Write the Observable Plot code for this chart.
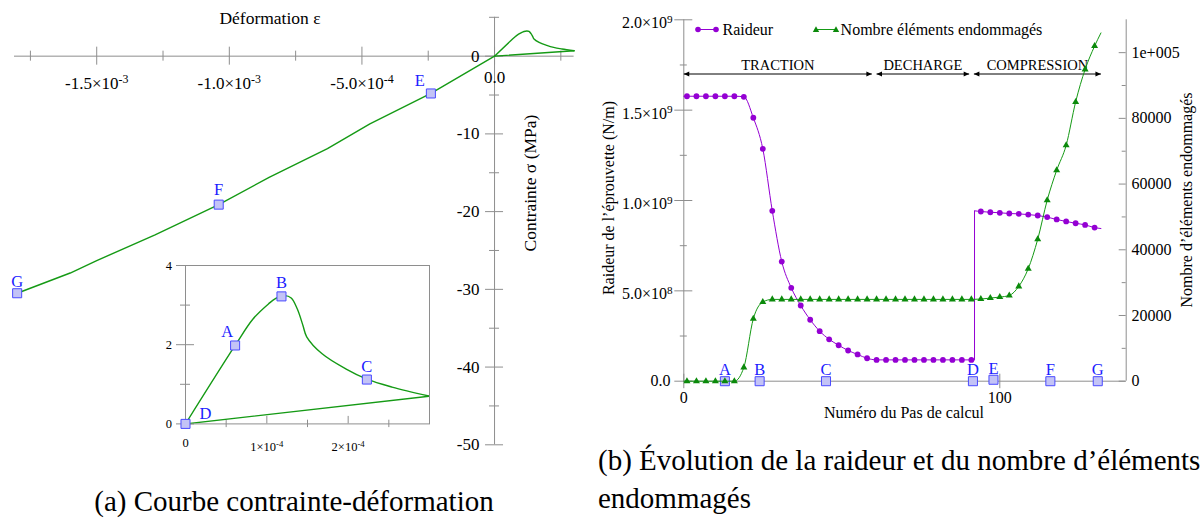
<!DOCTYPE html>
<html lang="fr"><head><meta charset="utf-8">
<script src="https://cdn.jsdelivr.net/npm/d3@7"></script>
<script src="https://cdn.jsdelivr.net/npm/@observablehq/plot@0.6"></script>
<style>
html,body{margin:0;padding:0;background:#fff;}
#root{position:relative;width:1204px;height:520px;overflow:hidden;background:#fff;
  font-family:"Liberation Serif","Times New Roman",serif;color:#000;}
.t{position:absolute;white-space:nowrap;line-height:1;}
</style></head><body><div id="root"></div>
<script>
// ================= Panel (a): stress-strain curve =================
const loadStrain = [0, 6.1e-5, 8.3e-5, 1.02e-4, 1.11e-4, 1.22e-4, 1.30e-4, 1.375e-4, 1.445e-4, 1.49e-4, 1.68e-4, 1.97e-4, 2.23e-4, 2.54e-4, 3.0e-4];
const loadStress = [0, 1.98, 2.65, 3.03, 3.17, 3.24, 3.18, 2.90, 2.48, 2.20, 1.77, 1.39, 1.13, 0.93, 0.70];
const unloadStrain = [3.0e-4, 0];
const unloadStress = [0.70, 0];
const compStrain = [0, -2.4e-4, -4.7e-4, -6.3e-4, -8.5e-4, -1.04e-3, -1.28e-3, -1.5e-3, -1.6e-3, -1.8e-3];
const compStress = [0, -4.8, -8.7, -11.9, -15.6, -19.1, -23.0, -26.3, -27.9, -30.5];
const pointNames = ["A", "B", "C", "D", "E", "F", "G"];
const pointStrain = [6.1e-5, 1.18e-4, 2.23e-4, 0, -2.4e-4, -1.04e-3, -1.8e-3];
const pointStress = [1.98, 3.22, 1.12, 0, -4.8, -19.1, -30.5];
const insetPoints = ["A", "B", "C", "D"];
const mainPoints = ["E", "F", "G"];

const mainXTicks = [-1.5e-3, -1.0e-3, -5.0e-4, 0];
const mainXTickLabels = ["-1.5×10^-3", "-1.0×10^-3", "-5.0×10^-4", "0.0"];
const mainXMinor = [-1.75e-3, -1.25e-3, -7.5e-4, -2.5e-4, 2.5e-4];
const mainYTicks = [0, -10, -20, -30, -40, -50];
const mainYTickLabels = ["0", "-10", "-20", "-30", "-40", "-50"];
const mainYMinor = [5, -5, -15, -25, -35, -45];

const insetXTicks = [0, 1e-4, 2e-4];
const insetXTickLabels = ["0", "1×10^-4", "2×10^-4"];
const insetXMinor = [5e-5, 1.5e-4, 2.5e-4];
const insetYTicks = [0, 2, 4];
const insetYTickLabels = ["0", "2", "4"];
const insetYMinor = [1, 3];

// ================= Panel (b): stiffness & damaged elements =================
const steps = [1, 4, 7, 10, 13, 16, 19, 22, 25, 28, 31, 34, 37, 40, 43, 46, 49, 52, 55, 58, 61, 64, 67, 70, 73, 76, 79, 82, 85, 88, 91, 94, 97, 100, 103, 106, 109, 112, 115, 118, 121, 124, 127, 130];
const raideur = [1.577e9, 1.577e9, 1.577e9, 1.577e9, 1.577e9, 1.577e9, 1.574e9, 1.458e9, 1.286e9, 0.943e9,
  0.662e9, 0.517e9, 0.419e9, 0.340e9, 0.277e9, 0.232e9, 0.199e9, 0.170e9, 0.148e9, 0.127e9,
  0.118e9, 0.118e9, 0.118e9, 0.118e9, 0.118e9, 0.118e9, 0.118e9, 0.118e9, 0.118e9, 0.118e9, 0.118e9,
  0.939e9, 0.935e9, 0.932e9, 0.928e9, 0.926e9, 0.922e9, 0.917e9, 0.908e9, 0.895e9, 0.884e9, 0.874e9, 0.865e9, 0.850e9];
const endommages = [0, 0, 0, 0, 0, 0, 4200, 19000, 24100, 24900,
  24900, 24900, 24900, 24900, 24900, 24900, 24900, 24900, 24900, 24900,
  24900, 24900, 24900, 24900, 24900, 24900, 24900, 24900, 24900, 24900, 24900,
  25000, 25300, 25600, 26100, 28850, 34250, 43200, 55100, 64200, 71800, 85000, 94900, 102000];
const raideurStart = 1.577e9;
const endommagesStart = 0;
const jumpStep = 92;
const raideurBeforeJump = 0.118e9;
const raideurAfterJump = 0.943e9;
const lastStep = 132;
const raideurLast = 0.845e9;
const endommagesLast = 106000;

const stepNames = ["A", "B", "C", "D", "E", "F", "G"];
const stepPositions = [13, 24, 45, 91.5, 98, 116, 131];
const stepMarkerValues = [0, 0, 0, 0, 8e6, 0, 0];

const phaseNames = ["TRACTION", "DECHARGE", "COMPRESSION"];
const phaseStart = [0, 61, 91.8];
const phaseEnd = [59.5, 90.3, 132];
const phaseLevel = 1.7e9;

const leftTicks = [0, 0.5e9, 1.0e9, 1.5e9, 2.0e9];
const leftTickLabels = ["0.0", "5.0×10^8", "1.0×10^9", "1.5×10^9", "2.0×10^9"];
const leftMinor = [0.25e9, 0.75e9, 1.25e9, 1.75e9];
const rightTicks = [0, 20000, 40000, 60000, 80000, 100000];
const rightTickLabels = ["0", "20000", "40000", "60000", "80000", "1e+005"];
const rightMinor = [10000, 30000, 50000, 70000, 90000];
const bXTicks = [0, 100];
const bXTickLabels = ["0", "100"];

// ================= rendering =================
const root = document.getElementById("root");
const W = 1204, H = 520;
const FONT = '"Liberation Serif","Times New Roman",serif';
const GRAY = "#8e8e8e", GREEN = "#159a15", GREEN_D = "#0b8a0b", PURPLE = "#9400d3", BLUE = "#1c1cff";
const SQ_FILL = "#c3c3f6", SQ_STROKE = "#4a4aff";

function supify(svg) {
  svg.querySelectorAll("text").forEach(t => {
    const s = t.textContent, k = s.indexOf("^");
    if (k < 0) return;
    t.textContent = s.slice(0, k);
    const ts = document.createElementNS("http://www.w3.org/2000/svg", "tspan");
    ts.setAttribute("dy", "-0.5em");
    ts.setAttribute("font-size", "70%");
    ts.textContent = s.slice(k + 1);
    t.appendChild(ts);
  });
}
function place(svg) {
  supify(svg);
  svg.style.position = "absolute"; svg.style.left = "0px"; svg.style.top = "0px";
  root.appendChild(svg);
}
function frameOpts(x0, x1, y0, y1) {
  return {width: W, height: H, marginLeft: x0, marginRight: W - x1, marginTop: y0, marginBottom: H - y1,
    style: {background: "transparent", overflow: "visible", fontFamily: FONT}};
}
const tk = (vals, labs) => vals.map((v, i) => ({v, label: labs[i]}));
const isExp = d => d.label.includes("^");
const noExp = d => !isExp(d);
const pts = (xs, ys) => xs.map((e, i) => ({e, s: ys[i]}));

const load = pts(loadStrain, loadStress);
const unload = pts(unloadStrain, unloadStress);
const comp = pts(compStrain, compStress);
const named = pointNames.map((n, i) => ({n, e: pointStrain[i], s: pointStress[i]}));
const letterOffset = {A: [-8, -14], B: [0, -14], C: [0, -13], D: [20, -10], E: [-11, -13], F: [0, -14.5], G: [0, -12]};

function letterMarks(names) {
  const sel = named.filter(d => names.includes(d.n));
  return [
    Plot.dot(sel, {x: "e", y: "s", symbol: "square", r: 5.1, fill: SQ_FILL, stroke: SQ_STROKE, strokeWidth: 1}),
    ...names.map(n => Plot.text(sel.filter(d => d.n === n), {x: "e", y: "s", text: "n", fill: BLUE, fontSize: 16.5,
      dx: letterOffset[n][0], dy: letterOffset[n][1]}))
  ];
}

// ---- (a) main plot ----
const mxt = tk(mainXTicks, mainXTickLabels), myt = tk(mainYTicks, mainYTickLabels);
place(Plot.plot({
  ...frameOpts(14, 573.6, 16.8, 444.3),
  x: {domain: [-1.81e-3, 3.0e-4], axis: null},
  y: {domain: [-50, 5], axis: null},
  marks: [
    Plot.ruleY([0], {stroke: GRAY}),
    Plot.ruleX([0], {stroke: GRAY}),
    Plot.ruleX(mainXTicks, {x: d => d, y1: 0, y2: 0, insetTop: -9, insetBottom: -9, stroke: GRAY}),
    Plot.ruleX(mainXMinor, {x: d => d, y1: 0, y2: 0, insetTop: -5, insetBottom: -5, stroke: GRAY}),
    Plot.ruleY(mainYTicks, {y: d => d, x1: 0, x2: 0, insetLeft: -9, insetRight: -9, stroke: GRAY}),
    Plot.ruleY(mainYMinor, {y: d => d, x1: 0, x2: 0, insetLeft: -5, insetRight: -5, stroke: GRAY}),
    Plot.text(mxt.filter(isExp), {x: "v", y: 0, text: "label", dy: 27.6, fontSize: 17}),
    Plot.text(mxt.filter(noExp), {x: "v", y: 0, text: "label", dy: 21, fontSize: 17}),
    Plot.text(myt, {x: 0, y: "v", text: "label", textAnchor: "end", dx: -15, fontSize: 17}),
    Plot.line(load, {x: "e", y: "s", curve: "catmull-rom", stroke: GREEN, strokeWidth: 1.4}),
    Plot.line(unload, {x: "e", y: "s", stroke: GREEN, strokeWidth: 1.4}),
    Plot.line(comp, {x: "e", y: "s", stroke: GREEN, strokeWidth: 1.4}),
    ...letterMarks(mainPoints)
  ]
}));

// ---- (a) inset ----
const ixt = tk(insetXTicks, insetXTickLabels), iyt = tk(insetYTicks, insetYTickLabels);
place(Plot.plot({
  ...frameOpts(185, 429, 265, 423.4),
  x: {domain: [0, 3.0e-4], axis: null},
  y: {domain: [0, 4], axis: null},
  marks: [
    Plot.frame({stroke: GRAY}),
    Plot.ruleY(insetYTicks, {y: d => d, x1: 0, x2: 0, insetLeft: -9, insetRight: -9, stroke: GRAY}),
    Plot.ruleY(insetYMinor, {y: d => d, x1: 0, x2: 0, insetLeft: -5, insetRight: -5, stroke: GRAY}),
    Plot.ruleX(insetXTicks.filter(v => v > 0), {x: d => d, y1: 0, y2: 0, insetTop: -7.5, insetBottom: 0, stroke: GRAY}),
    Plot.ruleX(insetXMinor, {x: d => d, y1: 0, y2: 0, insetTop: -3.7, insetBottom: -3.7, stroke: GRAY}),
    Plot.text(iyt, {x: 0, y: "v", text: "label", textAnchor: "end", dx: -13.5, fontSize: 12.5}),
    Plot.text(ixt.filter(isExp), {x: "v", y: 0, text: "label", dy: 23.4, fontSize: 12.5}),
    Plot.text(ixt.filter(noExp), {x: "v", y: 0, text: "label", dy: 19, fontSize: 12.5}),
    Plot.line(load, {x: "e", y: "s", curve: "catmull-rom", stroke: GREEN, strokeWidth: 1.4, clip: true}),
    Plot.line(unload, {x: "e", y: "s", stroke: GREEN, strokeWidth: 1.4, clip: true}),
    ...letterMarks(insetPoints)
  ]
}));

// ---- (b) left scale: stiffness ----
const B = [683.3, 1125.7, 19.3, 380.7];
const raid = steps.map((s, i) => ({s, v: raideur[i]}));
const endo = steps.map((s, i) => ({s, v: endommages[i]}));
const raidLine = [
  {seg: 1, s: 0, v: raideurStart},
  ...raid.filter(d => d.s < jumpStep).map(d => ({seg: 1, ...d})),
  {seg: 1, s: jumpStep, v: raideurBeforeJump},
  {seg: 2, s: jumpStep, v: raideurAfterJump},
  ...raid.filter(d => d.s > jumpStep).map(d => ({seg: 2, ...d})),
  {seg: 2, s: lastStep, v: raideurLast}
];
const endoLine = [{s: 0, v: endommagesStart}, ...endo, {s: lastStep, v: endommagesLast}];
const lt = tk(leftTicks, leftTickLabels), bxt = tk(bXTicks, bXTickLabels), rt = tk(rightTicks, rightTickLabels);
const phases = phaseNames.map((n, i) => ({n, a: phaseStart[i], b: phaseEnd[i], m: (phaseStart[i] + phaseEnd[i]) / 2}));
const headRight = {draw(ctx, size) { const q = Math.sqrt(size); ctx.moveTo(0, 0); ctx.lineTo(-1.4 * q, -0.65 * q); ctx.lineTo(-1.4 * q, 0.65 * q); ctx.closePath(); }};
const headLeft = {draw(ctx, size) { const q = Math.sqrt(size); ctx.moveTo(0, 0); ctx.lineTo(1.4 * q, -0.65 * q); ctx.lineTo(1.4 * q, 0.65 * q); ctx.closePath(); }};
const stepPts = stepNames.map((n, i) => ({n, s: stepPositions[i], v: stepMarkerValues[i]}));

place(Plot.plot({
  ...frameOpts(...B),
  x: {domain: [0, 140], axis: null},
  y: {domain: [0, 2.0e9], axis: null},
  marks: [
    Plot.ruleX([0], {stroke: GRAY}),
    Plot.ruleY([0], {stroke: GRAY}),
    Plot.ruleY(leftTicks, {y: d => d, x1: 0, x2: 0, insetLeft: -9, insetRight: -9, stroke: GRAY}),
    Plot.ruleY(leftMinor, {y: d => d, x1: 0, x2: 0, insetLeft: -3.5, insetRight: -3.5, stroke: GRAY}),
    Plot.ruleX(bXTicks, {x: d => d, y1: 0, y2: 0, insetTop: -7, insetBottom: -7.5, stroke: GRAY}),
    Plot.text(lt.filter(isExp), {x: 0, y: "v", text: "label", textAnchor: "end", dx: -11.3, dy: 3.5, fontSize: 16}),
    Plot.text(lt.filter(noExp), {x: 0, y: "v", text: "label", textAnchor: "end", dx: -13.3, fontSize: 16}),
    Plot.text(bxt, {x: "v", y: 0, text: "label", dy: 16.6, fontSize: 16}),
    Plot.link(phases, {x1: "a", x2: "b", y1: phaseLevel, y2: phaseLevel, stroke: "black", strokeWidth: 1}),
    Plot.dot(phases, {x: "a", y: phaseLevel, symbol: headLeft, r: 2.2, fill: "black"}),
    Plot.dot(phases, {x: "b", y: phaseLevel, symbol: headRight, r: 2.2, fill: "black"}),
    Plot.text(phases, {x: "m", y: phaseLevel, text: "n", dy: -8.6, fontSize: 14.5}),
    Plot.line(raidLine, {x: "s", y: "v", z: "seg", curve: "monotone-x", stroke: PURPLE, strokeWidth: 1}),
    Plot.link([jumpStep], {x1: d => d, x2: d => d, y1: raideurBeforeJump, y2: raideurAfterJump, stroke: PURPLE, strokeWidth: 1}),
    Plot.dot(raid, {x: "s", y: "v", r: 2.9, fill: PURPLE}),
    Plot.dot(stepPts, {x: "s", y: "v", symbol: "square", r: 5.1, fill: SQ_FILL, stroke: SQ_STROKE, strokeWidth: 1}),
    Plot.text(stepPts, {x: "s", y: "v", text: "n", dy: -11, fill: BLUE, fontSize: 16.5})
  ]
}));

// ---- (b) right scale: damaged elements ----
place(Plot.plot({
  ...frameOpts(...B),
  x: {domain: [0, 140], axis: null},
  y: {domain: [0, 110000], axis: null},
  marks: [
    Plot.ruleX([140], {stroke: GRAY}),
    Plot.ruleY(rightTicks, {y: d => d, x1: 140, x2: 140, insetLeft: -7, insetRight: 0, stroke: GRAY}),
    Plot.ruleY(rightMinor, {y: d => d, x1: 140, x2: 140, insetLeft: -4, insetRight: 0, stroke: GRAY}),
    Plot.text(rt, {x: 140, y: "v", text: "label", textAnchor: "start", dx: 5.3, fontSize: 16}),
    Plot.line(endoLine, {x: "s", y: "v", curve: "monotone-x", stroke: GREEN, strokeWidth: 1}),
    Plot.dot(endo, {x: "s", y: "v", symbol: "triangle", r: 2.6, fill: GREEN_D})
  ]
}));

// ---- HTML texts ----
function label(txt, x, y, size, mode) {
  const d = document.createElement("div");
  d.className = "t"; d.textContent = txt;
  d.style.left = x + "px"; d.style.top = y + "px"; d.style.fontSize = size + "px";
  d.style.transform = mode === "rot" ? "translate(-50%,-50%) rotate(-90deg)"
    : mode === "start" ? "translate(0,-50%)" : "translate(-50%,-50%)";
  root.appendChild(d);
}
label("Déformation ε", 270, 19, 17.5);
label("Contrainte σ (MPa)", 530.6, 183, 17.5, "rot");
label("Raideur de l’éprouvette (N/m)", 609, 198.3, 16, "rot");
label("Nombre d’éléments endommagés", 1187, 200, 16, "rot");
label("Numéro du Pas de calcul", 904, 413.3, 16);
label("(a) Courbe contrainte-déformation", 294, 501.2, 29);
label("(b) Évolution de la raideur et du nombre d’éléments", 598, 460, 29, "start");
label("endommagés", 598, 497.5, 29, "start");

// legend (inside panel b, top-left)
const leg = document.createElement("div");
leg.innerHTML = `
<svg style="position:absolute;left:694px;top:24px" width="26" height="11">
  <line x1="4" y1="5.5" x2="22" y2="5.5" stroke="${PURPLE}" stroke-width="1"/>
  <circle cx="4" cy="5.5" r="2.8" fill="${PURPLE}"/><circle cx="22" cy="5.5" r="2.8" fill="${PURPLE}"/>
</svg>
<svg style="position:absolute;left:812px;top:24px" width="28" height="11">
  <line x1="4" y1="5.5" x2="24" y2="5.5" stroke="${GREEN}" stroke-width="1"/>
  <polygon points="4,2.3 7.2,7.9 0.8,7.9" fill="${GREEN_D}"/><polygon points="24,2.3 27.2,7.9 20.8,7.9" fill="${GREEN_D}"/>
</svg>`;
root.appendChild(leg);
label("Raideur", 722.5, 29.5, 16, "start");
label("Nombre éléments endommagés", 840.6, 29.5, 16, "start");
</script></body></html>
